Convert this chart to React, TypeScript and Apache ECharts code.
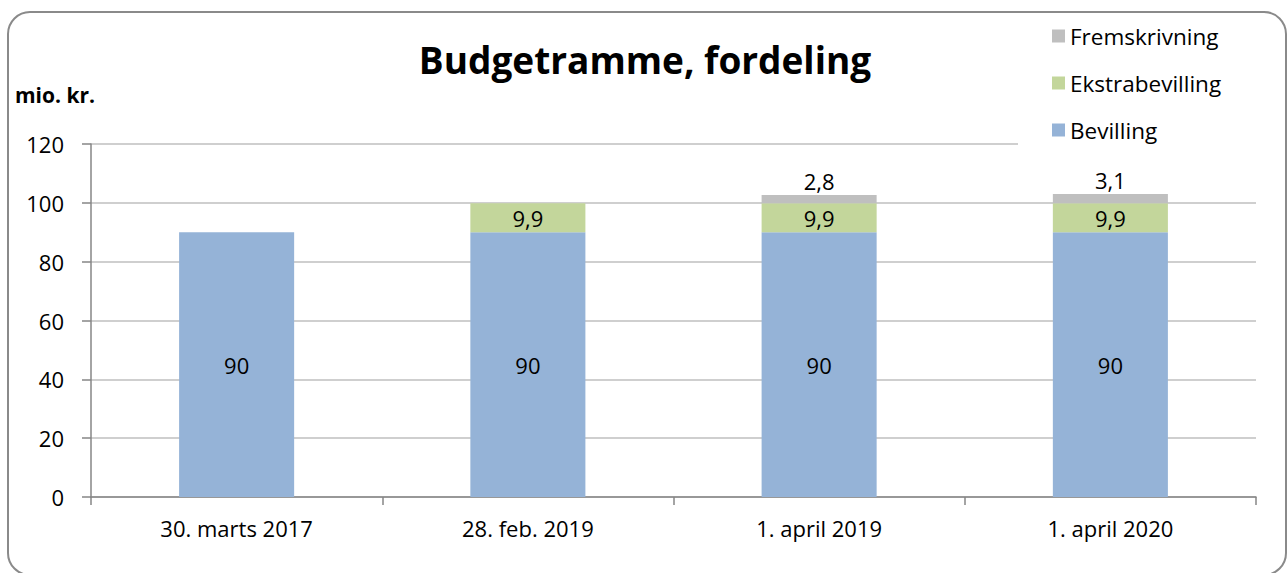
import React, { useEffect, useRef } from "react";
import * as echarts from "echarts";

const categories = ["30. marts 2017", "28. feb. 2019", "1. april 2019", "1. april 2020"];
const bevilling = [90, 90, 90, 90];
const ekstrabevilling = [null, 9.9, 9.9, 9.9];
const fremskrivning = [null, null, 2.8, 3.1];
const yTicks = { min: 0, max: 120, interval: 20 };

const FONT = "'Open Sans', sans-serif";
const fmt = (p: any) => (p.value == null ? "" : String(p.value).replace(".", ","));

export default function App() {
  const ref = useRef<HTMLDivElement>(null);
  useEffect(() => {
    if (!ref.current) return;
    const chart = echarts.init(ref.current, null, { renderer: "svg" });
    const labelStyle = { show: true, color: "#000", fontSize: 22, fontFamily: FONT, formatter: fmt };
    chart.setOption({
      animation: false,
      backgroundColor: "#fff",
      textStyle: { fontFamily: FONT },
      title: {
        text: "Budgetramme, fordeling",
        left: 640,
        textAlign: "center",
        top: 36,
        textStyle: { fontSize: 37, fontWeight: "bold", color: "#000", fontFamily: FONT },
      },
      graphic: [
        {
          type: "rect",
          shape: { x: 8, y: 12, width: 1278, height: 563, r: 22 },
          style: { fill: "none", stroke: "#8a8a8a", lineWidth: 2 },
          z: 10,
        },
        {
          type: "text",
          x: 15,
          y: 95,
          style: {
            text: "mio. kr.",
            fontSize: 21,
            fontWeight: "bold",
            fontFamily: FONT,
            fill: "#000",
            verticalAlign: "middle",
          },
        },
      ],
      legend: {
        data: ["Fremskrivning", "Ekstrabevilling", "Bevilling"],
        orient: "vertical",
        left: 1018,
        top: 13,
        padding: [10, 40, 20, 34],
        backgroundColor: "#fff",
        itemWidth: 13,
        itemHeight: 13,
        itemGap: 21,
        icon: "rect",
        textStyle: { fontSize: 22.5, lineHeight: 26, color: "#000", fontFamily: FONT },
        selectedMode: false,
      },
      grid: { left: 91, right: 31, top: 144, bottom: 76, containLabel: false },
      xAxis: {
        type: "category",
        data: categories,
        axisLine: { lineStyle: { color: "#868686", width: 1.5 } },
        axisTick: { show: true, length: 8, lineStyle: { color: "#868686", width: 1.5 } },
        axisLabel: { interval: 0, fontSize: 22, color: "#000", margin: 20, fontFamily: FONT },
      },
      yAxis: {
        type: "value",
        min: yTicks.min,
        max: yTicks.max,
        interval: yTicks.interval,
        axisLine: { show: true, lineStyle: { color: "#868686", width: 1.5 } },
        axisTick: { show: true, length: 9, lineStyle: { color: "#868686", width: 1.5 } },
        axisLabel: { fontSize: 22, color: "#000", margin: 27, fontFamily: FONT },
        splitLine: { lineStyle: { color: "#BFBFBF", width: 1.5 } },
      },
      series: [
        {
          name: "Bevilling",
          type: "bar",
          stack: "total",
          barWidth: "39.5%",
          data: bevilling,
          itemStyle: { color: "#95B3D7" },
          label: { ...labelStyle, position: "inside" },
        },
        {
          name: "Ekstrabevilling",
          type: "bar",
          stack: "total",
          data: ekstrabevilling,
          itemStyle: { color: "#C3D69B" },
          label: { ...labelStyle, position: "inside" },
        },
        {
          name: "Fremskrivning",
          type: "bar",
          stack: "total",
          data: fremskrivning,
          itemStyle: { color: "#BFBFBF" },
          label: { ...labelStyle, position: "top", distance: 3 },
        },
      ],
    });
    return () => chart.dispose();
  }, []);
  return <div ref={ref} style={{ position: "fixed", left: 0, top: 0, width: 1287, height: 573 }} />;
}
